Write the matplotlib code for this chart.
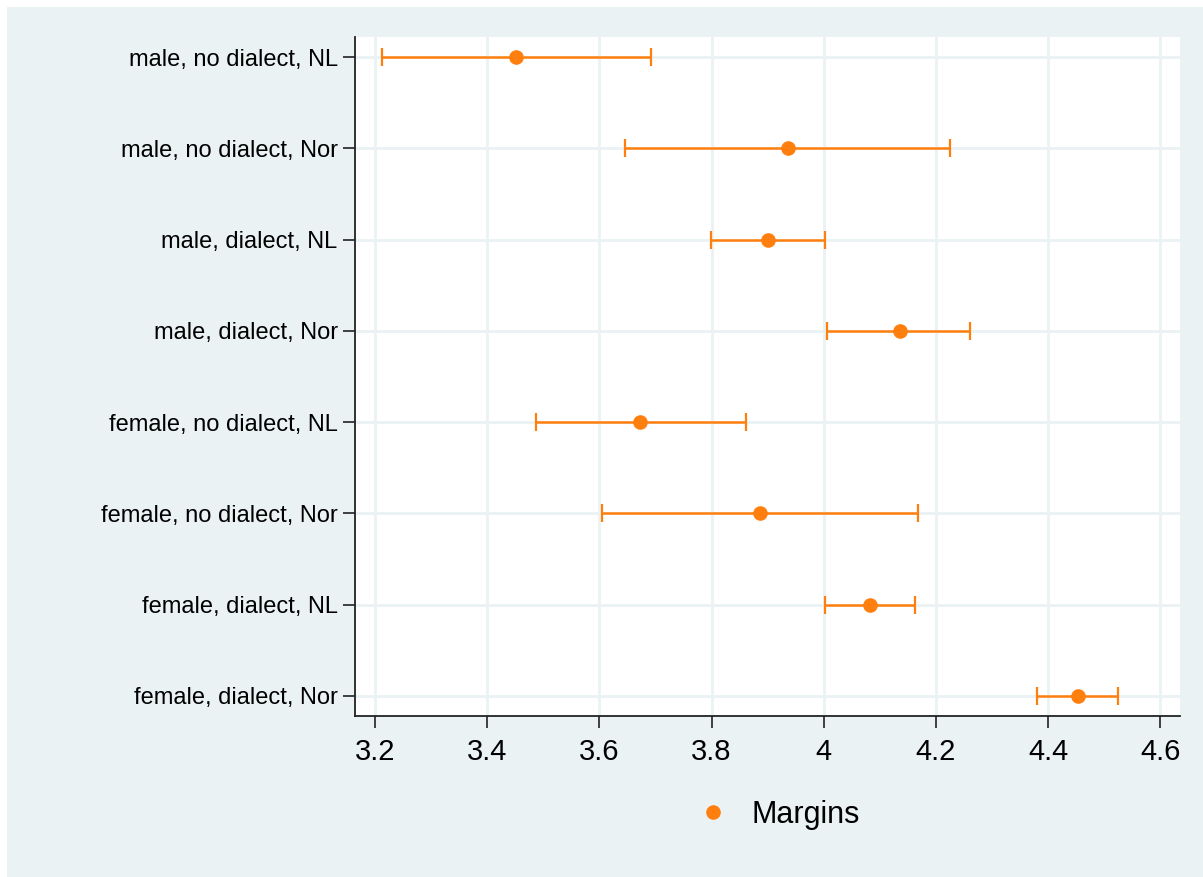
import numpy as np
import matplotlib.pyplot as plt
from matplotlib.patches import Rectangle

plt.rcParams['font.family'] = ['Liberation Sans', 'DejaVu Sans']

labels = ["male, no dialect, NL", "male, no dialect, Nor",
          "male, dialect, NL", "male, dialect, Nor",
          "female, no dialect, NL", "female, no dialect, Nor",
          "female, dialect, NL", "female, dialect, Nor"]
margins = [3.451, 3.936, 3.900, 4.135, 3.672, 3.886, 4.082, 4.453]
lower = [3.212, 3.646, 3.799, 4.006, 3.487, 3.605, 4.002, 4.380]
upper = [3.692, 4.225, 4.002, 4.261, 3.861, 4.168, 4.163, 4.524]
xticks = [3.2, 3.4, 3.6, 3.8, 4.0, 4.2, 4.4, 4.6]
xticklabels = ["3.2", "3.4", "3.6", "3.8", "4", "4.2", "4.4", "4.6"]

bg = "#EAF2F3"
orange = "#FF7F0E"

fig = plt.figure(figsize=(12.03, 8.77), dpi=100)
fig.patch.set_facecolor("white")
fig.add_artist(Rectangle((7/1203, 0), 1, 1 - 7/877, transform=fig.transFigure,
                         facecolor=bg, edgecolor="none", zorder=0))

ax = fig.add_axes([355/1203, 1 - 716/877, (1180 - 355)/1203, (716 - 37)/877])
ax.set_facecolor("white")

y = np.arange(1, len(labels) + 1)
m = np.array(margins)
err = [m - np.array(lower), np.array(upper) - m]
ax.errorbar(m, y, xerr=err, fmt="none", ecolor=orange, elinewidth=1.8,
            capsize=6.2, capthick=1.6, zorder=3)
ax.plot(m, y, "o", color=orange, markersize=9.5, zorder=4, label="Margins")

ax.set_ylim(8.22, 0.78)
ax.set_yticks(y)
ax.set_yticklabels(labels, fontsize=17)
ax.set_xlim(3.2 - 20/561, 3.2 + 805/561)
ax.set_xticks(xticks)
ax.set_xticklabels(xticklabels, fontsize=21)

ax.grid(True, color=bg, linewidth=2)
ax.set_axisbelow(True)
for s in ["top", "right"]:
    ax.spines[s].set_visible(False)
for s in ["left", "bottom"]:
    ax.spines[s].set_linewidth(1.3)
    ax.spines[s].set_color("#222222")
ax.tick_params(axis="both", length=8.5, width=1.2, color="#222222")
ax.tick_params(axis="y", pad=4)
ax.tick_params(axis="x", pad=7)

fig.legend(handles=[ax.lines[-1]], loc="center left",
           bbox_to_anchor=(670/1203, 1 - 815/877),
           frameon=False, fontsize=22, handlelength=1, handletextpad=0.77)

fig.savefig("out.png", dpi=100)
